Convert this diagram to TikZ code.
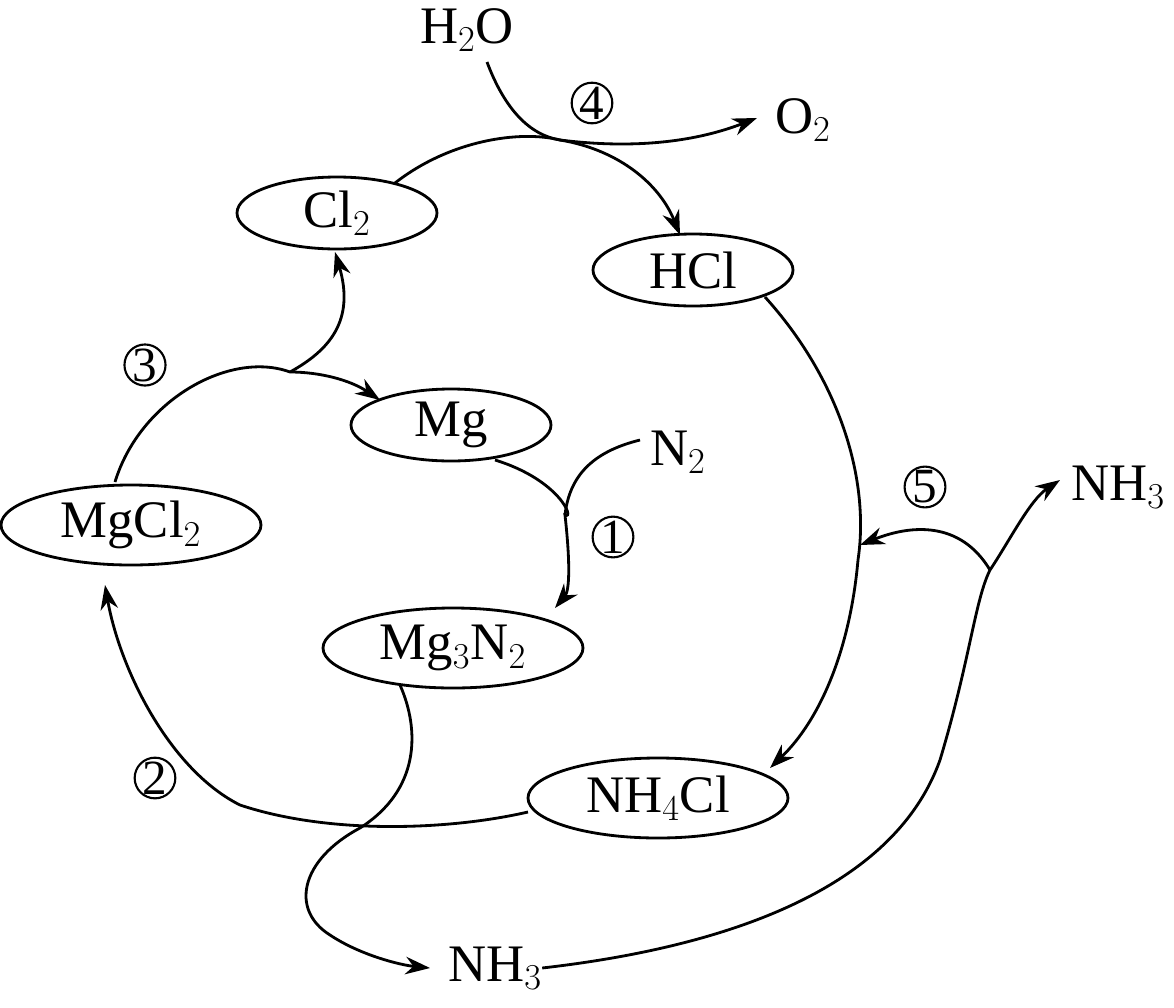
\documentclass[tikz,border=0pt]{standalone}
\usepackage{fontspec}
\setmainfont{Liberation Serif}
\usetikzlibrary{arrows.meta,shapes.geometric}
\begin{document}
\begin{tikzpicture}[x=0.02cm,y=-0.02cm,
 ov/.style={draw,line width=1.6pt,ellipse,minimum width=#1*0.02cm*2,minimum height=72*0.02cm,inner sep=0pt},
 tx/.style={font=\fontsize{30}{30}\selectfont,inner sep=0pt},
 cn/.style={draw,circle,line width=1.2pt,minimum size=40*0.02cm,inner sep=0pt,font=\fontsize{28}{28}\selectfont},
 ar/.style={line width=1.6pt,-{Stealth[length=14pt,width=10pt]}},
 ln/.style={line width=1.6pt}]
\useasboundingbox (0,0) rectangle (1174,1008);
\node[ov=100,tx] (cl2) at (337,213) {Cl$_2$};
\node[ov=100,tx] (hcl) at (693,270) {HCl};
\node[ov=100,tx] (mg) at (451,425) {Mg};
\node[ov=130,minimum height=80*0.02cm,tx] (mgcl2) at (131,525) {MgCl$_2$};
\node[ov=130,minimum height=80*0.02cm,tx] (mg3n2) at (453,648) {Mg$_3$N$_2$};
\node[ov=130,minimum height=80*0.02cm,tx] (nh4cl) at (658,798) {NH$_4$Cl};
\node[tx] (h2o) at (467,30) {H$_2$O};
\node[tx] (o2) at (803,120) {O$_2$};
\node[tx] (n2) at (678,452) {N$_2$};
\node[tx] (nh3r) at (1118,487) {NH$_3$};
\node[tx] (nh3b) at (495,968) {NH$_3$};
\node[cn] (c4) at (592,103) {4};
\node[cn] (c3) at (145,365) {3};
\node[cn] (c1) at (613,537) {1};
\node[cn] (c5) at (925,487) {5};
\node[cn] (c2) at (155,778) {2};
\coordinate (j4) at (560,140);
\coordinate (j3) at (290,372);
\coordinate (j1) at (565,515);
\coordinate (j5) at (990,570);
\draw[ln] (487,62) .. controls (505,110) and (530,135) .. (j4);
\draw[ar] (j4) .. controls (640,150) and (700,140) .. (757,118);
\draw[ar] (395,183) .. controls (450,140) and (520,130) .. (j4) .. controls (620,150) and (660,185) .. (680,235);
\draw[ar] (765,297) .. controls (840,380) and (870,480) .. (858,560) .. controls (850,650) and (820,720) .. (770,768);
\draw[ar] (nh3b.east) .. controls (700,950) and (890,900) .. (940,760) .. controls (970,660) and (975,600) .. (j5) .. controls (1010,540) and (1030,500) .. (1060,480);
\draw[ar] (j5) .. controls (960,520) and (910,525) .. (860,545);
\draw[ar] (115,482) .. controls (140,400) and (230,350) .. (j3) .. controls (320,372) and (350,380) .. (380,400);
\draw[ar] (j3) .. controls (330,350) and (355,320) .. (335,252);
\draw[ln] (640,440) .. controls (600,450) and (570,470) .. (j1);
\draw[ar] (495,460) .. controls (560,480) and (575,520) .. (j1) .. controls (570,560) and (570,590) .. (555,608);
\draw[ar] (400,685) .. controls (420,730) and (420,790) .. (360,828) .. controls (300,860) and (290,910) .. (330,935) .. controls (360,955) and (400,965) .. (430,968);
\draw[ar] (528,812) .. controls (450,830) and (330,835) .. (240,805) .. controls (170,770) and (120,670) .. (105,585);
\end{tikzpicture}
\end{document}
